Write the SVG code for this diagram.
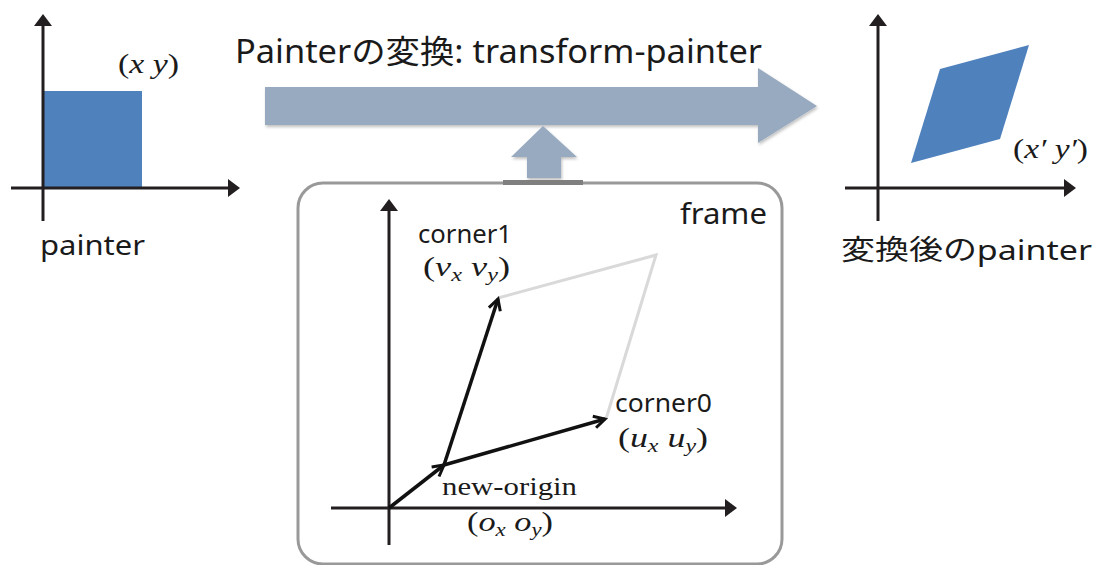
<svg xmlns="http://www.w3.org/2000/svg" width="1099" height="565" viewBox="0 0 1099 565">
  <style>
    .axis { stroke: #231f20; stroke-width: 3; fill: none; }
    .vec { stroke: #111; stroke-width: 3.5; fill: none; }
    .ghost { stroke: #d9d9d9; stroke-width: 3; fill: none; }
    .sans { font-family: "Noto Sans", "Open Sans", "Noto Sans CJK JP", sans-serif; fill: #1a1a1a; }
    .serif { font-family: "Liberation Serif", "DejaVu Serif", serif; fill: #1a1a1a; }
    .it { font-style: italic; }
    .sub { font-style: italic; font-size: 18px; }
    .shape { fill: #4f81bd; }
    .bigarrow { fill: #98aac0; }
  </style>
  <defs>
    <marker id="axh" viewBox="0 0 12 18" refX="2" refY="9" markerWidth="12" markerHeight="18" markerUnits="userSpaceOnUse" orient="auto">
      <path d="M0,0 L12,9 L0,18 Z" fill="#231f20"/>
    </marker>
    <marker id="vh" viewBox="0 0 16 16" refX="13" refY="8" markerWidth="16" markerHeight="16" markerUnits="userSpaceOnUse" orient="auto">
      <path d="M2,2 L13,8 L2,14" fill="none" stroke="#111" stroke-width="3"/>
    </marker>
    <filter id="sh" x="-5%" y="-20%" width="110%" height="150%">
      <feDropShadow dx="1" dy="2" stdDeviation="1.5" flood-color="#000" flood-opacity="0.25"/>
    </filter>
  </defs>

  <!-- Left panel: painter -->
  <g id="painter">
    <rect class="shape" x="43" y="91" width="99" height="97"/>
    <line class="axis" x1="43" y1="221" x2="43" y2="24" marker-end="url(#axh)"/>
    <line class="axis" x1="11" y1="188" x2="230" y2="188" marker-end="url(#axh)"/>
    <text class="serif" x="118" y="73" font-size="27" textLength="61" lengthAdjust="spacingAndGlyphs">(<tspan class="it">x</tspan> <tspan class="it">y</tspan>)</text>
    <text class="sans" x="40" y="255" font-size="28" textLength="105" lengthAdjust="spacingAndGlyphs">painter</text>
  </g>

  <!-- Title and transform arrow -->
  <g id="title">
    <text class="sans" x="235" y="63" font-size="32" textLength="527" lengthAdjust="spacingAndGlyphs">Painterの変換: transform-painter</text>
  </g>
  <g id="transform-arrow">
    <polygon class="bigarrow" filter="url(#sh)" points="265,87 758,87 758,68 817,106 758,143 758,125 265,125"/>
    <polygon class="bigarrow" filter="url(#sh)" points="527,178 527,157 511,157 543,126 577,157 561,157 561,178"/>
  </g>

  <!-- Right panel: transformed painter -->
  <g id="transformed-painter">
    <polygon class="shape" points="911,163 940,69 1029,45 1000,139"/>
    <line class="axis" x1="878" y1="221" x2="878" y2="24" marker-end="url(#axh)"/>
    <line class="axis" x1="845" y1="188" x2="1066" y2="188" marker-end="url(#axh)"/>
    <text class="serif" x="1013" y="158" font-size="27" textLength="75" lengthAdjust="spacingAndGlyphs">(<tspan class="it">x′</tspan> <tspan class="it">y′</tspan>)</text>
    <text class="sans" x="841" y="260" font-size="28" textLength="251" lengthAdjust="spacingAndGlyphs">変換後のpainter</text>
  </g>

  <!-- Frame -->
  <g id="frame">
    <rect x="298" y="183" width="484" height="381" rx="25" ry="25" fill="#fff" stroke="#999" stroke-width="3"/>
    <rect x="503" y="180" width="80" height="5" fill="#7f7f7f"/>
    <text class="sans" x="680" y="224" font-size="29" textLength="87" lengthAdjust="spacingAndGlyphs">frame</text>
    <line class="axis" x1="389" y1="545" x2="389" y2="209" marker-end="url(#axh)"/>
    <line class="axis" x1="331" y1="508" x2="727" y2="508" marker-end="url(#axh)"/>
  </g>

  <g id="corner1">
    <text class="sans" x="418" y="243" font-size="25" textLength="94" lengthAdjust="spacingAndGlyphs">corner1</text>
    <text class="serif" x="423" y="276" font-size="27" textLength="87" lengthAdjust="spacingAndGlyphs">(<tspan class="it">v</tspan><tspan class="sub" dy="5">x</tspan><tspan dy="-5"> </tspan><tspan class="it">v</tspan><tspan class="sub" dy="5">y</tspan><tspan dy="-5">)</tspan></text>
  </g>
  <g id="corner0">
    <text class="sans" x="615" y="412" font-size="25" textLength="97" lengthAdjust="spacingAndGlyphs">corner0</text>
    <text class="serif" x="618" y="447" font-size="27" textLength="90" lengthAdjust="spacingAndGlyphs">(<tspan class="it">u</tspan><tspan class="sub" dy="5">x</tspan><tspan dy="-5"> </tspan><tspan class="it">u</tspan><tspan class="sub" dy="5">y</tspan><tspan dy="-5">)</tspan></text>
  </g>
  <g id="new-origin">
    <text class="serif" x="442" y="495" font-size="26" textLength="135" lengthAdjust="spacingAndGlyphs">new-origin</text>
    <text class="serif" x="467" y="531" font-size="27" textLength="86" lengthAdjust="spacingAndGlyphs">(<tspan class="it">o</tspan><tspan class="sub" dy="5">x</tspan><tspan dy="-5"> </tspan><tspan class="it">o</tspan><tspan class="sub" dy="5">y</tspan><tspan dy="-5">)</tspan></text>
  </g>

  <!-- Connectors (vectors) -->
  <g id="connectors">
    <polyline class="ghost" points="498,298 656,255 606,419"/>
    <line class="vec" x1="389" y1="508" x2="444" y2="465" marker-end="url(#vh)"/>
    <line class="vec" x1="444" y1="465" x2="498" y2="299" marker-end="url(#vh)"/>
    <line class="vec" x1="444" y1="465" x2="605" y2="419" marker-end="url(#vh)"/>
  </g>
</svg>
